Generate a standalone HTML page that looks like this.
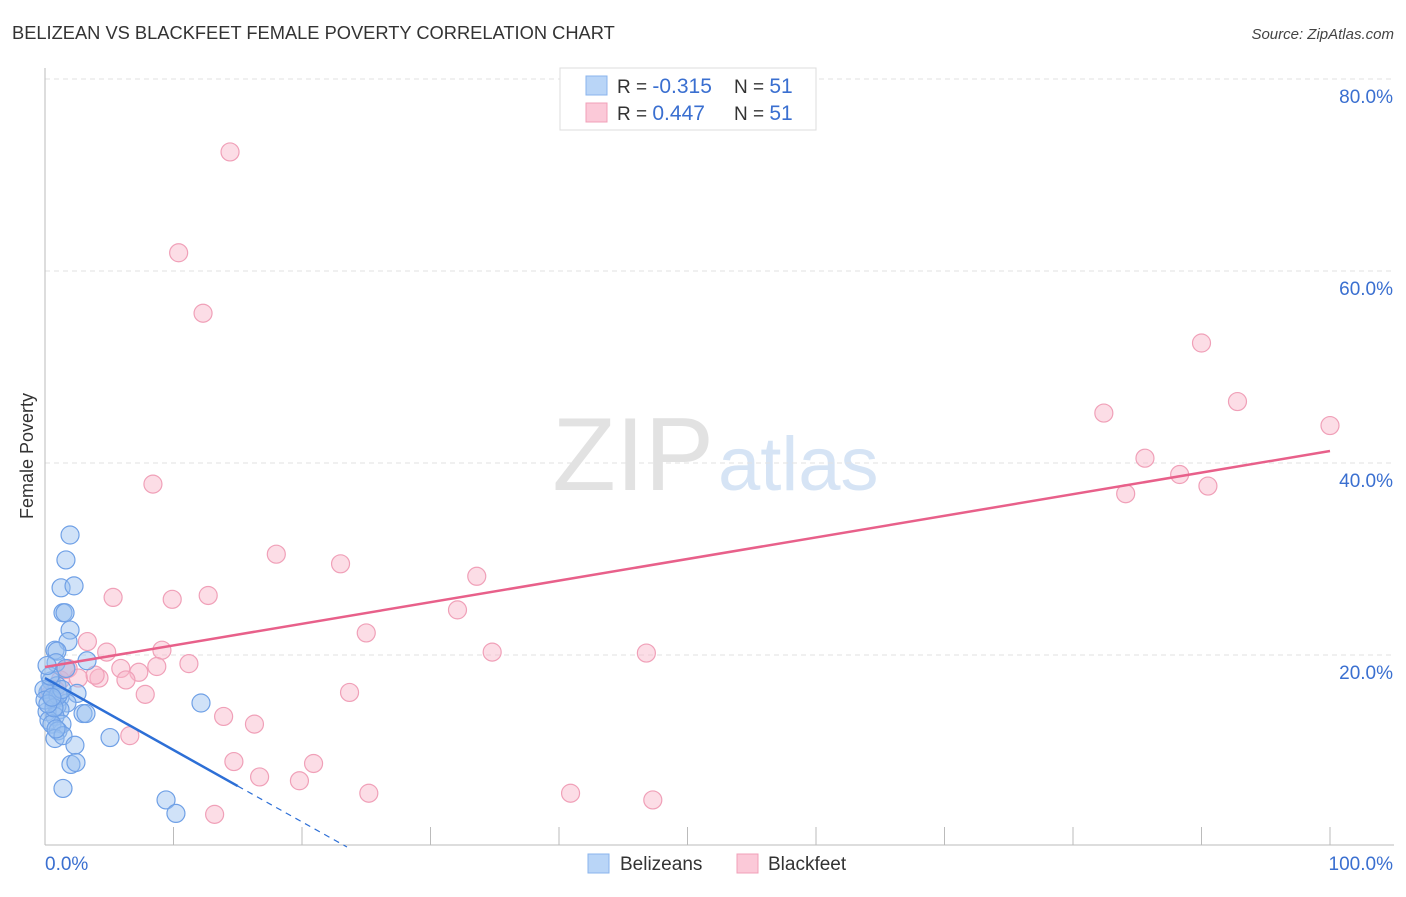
<!DOCTYPE html>
<html><head><meta charset="utf-8">
<style>
body{margin:0;background:#fff;font-family:"Liberation Sans",sans-serif;}
svg text{font-family:"Liberation Sans",sans-serif;}
</style></head>
<body>
<svg id="chart" width="1406" height="892" xmlns="http://www.w3.org/2000/svg">
<text x="12" y="39" font-size="18.3" fill="#333">BELIZEAN VS BLACKFEET FEMALE POVERTY CORRELATION CHART</text>
<text x="1394" y="39" font-size="15" fill="#444" text-anchor="end" font-style="italic">Source: ZipAtlas.com</text>
<text x="714" y="490" font-size="104" fill="#e2e2e2" text-anchor="end" font-family="Liberation Serif">ZIP</text>
<text x="718" y="490" font-size="76" fill="#d6e4f5">atlas</text>
<text transform="translate(33,456) rotate(-90)" font-size="18" fill="#333" text-anchor="middle">Female Poverty</text>
<g id="grid"></g>
<g id="marks"></g>
<g id="legend-top">
<rect x="560" y="68" width="256" height="62" fill="#fff" stroke="#ddd"/>
<rect x="586" y="76" width="21" height="19" fill="#b9d5f7" stroke="#8ab4ec"/>
<rect x="586" y="103" width="21" height="19" fill="#fbc9d8" stroke="#f0a0b8"/>
<text x="617" y="93" font-size="19" fill="#333">R = <tspan fill="#3a6fd0" font-size="21">-0.315</tspan></text>
<text x="734" y="93" font-size="19" fill="#333">N = <tspan fill="#3a6fd0" font-size="21">51</tspan></text>
<text x="617" y="120" font-size="19" fill="#333">R = <tspan fill="#3a6fd0" font-size="21"> 0.447</tspan></text>
<text x="734" y="120" font-size="19" fill="#333">N = <tspan fill="#3a6fd0" font-size="21">51</tspan></text>
</g>
<g>
<rect x="588" y="854" width="21" height="19" fill="#b9d5f7" stroke="#8ab4ec"/>
<text x="620" y="870" font-size="19" fill="#333">Belizeans</text>
<rect x="737" y="854" width="21" height="19" fill="#fbc9d8" stroke="#f0a0b8"/>
<text x="768" y="870" font-size="19" fill="#333">Blackfeet</text>
</g>
</svg>
<script>
const yTicks=[20,40,60,80];
const yTickLabels=["20.0%","40.0%","60.0%","80.0%"];
const xTicks=[0,10,20,30,40,50,60,70,80,90,100];
const beliX=[1.95,1.63,1.25,2.26,1.40,1.56,1.95,1.79,0.78,0.93,0.86,3.27,1.63,0.47,0.93,0.23,0.39,2.49,1.17,1.71,0.62,0.93,1.17,0.16,0.78,0.31,2.96,3.19,1.32,0.54,1.01,0.78,1.40,2.33,5.06,2.02,2.41,1.40,12.14,9.42,10.19,-0.08,0,0.39,0.16,1.01,1.32,0.70,0.23,0.54,0.86];
const beliY=[32.5,29.9,27.0,27.2,24.4,24.4,22.6,21.4,20.5,20.4,19.2,19.4,18.6,17.3,16.8,16.1,16.4,16.0,15.6,15.0,15.3,14.7,14.3,14.1,13.6,13.2,13.9,13.9,12.8,12.8,12.1,11.3,11.6,10.6,11.4,8.6,8.8,6.1,15.0,4.9,3.5,16.4,15.3,17.8,18.9,15.8,16.4,14.5,14.9,15.6,12.3];
const blkX=[14.4,10.4,12.3,8.4,18.0,23.0,33.6,5.3,9.9,12.7,32.1,25.0,3.3,4.8,9.1,34.8,46.8,1.8,5.9,7.3,8.7,11.2,2.6,4.2,6.3,3.9,7.8,23.7,13.9,16.3,6.6,14.7,16.7,19.8,20.9,25.2,40.9,47.3,13.2,90.0,82.4,92.8,100,85.6,88.3,84.1,90.5,1.2,0.8,1.6,0.39];
const blkY=[72.4,61.9,55.6,37.8,30.5,29.5,28.2,26.0,25.8,26.2,24.7,22.3,21.4,20.3,20.5,20.3,20.2,18.6,18.6,18.2,18.8,19.1,17.6,17.6,17.4,17.9,15.9,16.1,13.6,12.8,11.6,8.9,7.3,6.9,8.7,5.6,5.6,4.9,3.4,52.5,45.2,46.4,43.9,40.5,38.8,36.8,37.6,17.4,16.4,18.5,15.9];
const beliLine=[0,17.6,15.0,6.35,23.5,0];
const blkLine=[0,18.75,100,41.25];
const NS="http://www.w3.org/2000/svg";
const X=v=>45+v*12.85, Y=v=>847-v*9.6;
function mk(t,a,p){const e=document.createElementNS(NS,t);for(const k in a)e.setAttribute(k,a[k]);p.appendChild(e);return e;}
const grid=document.getElementById('grid'),marks=document.getElementById('marks');
yTicks.forEach((t,i)=>{
 const l=mk('line',{x1:45,x2:1394,y1:Y(t),y2:Y(t),stroke:'#e2e2e2','stroke-dasharray':'5,4'},grid);
 
 
 const tx=mk('text',{x:1393,y:Y(t)+24,'font-size':19,fill:'#3a6fd0','text-anchor':'end'},grid);
 tx.textContent=yTickLabels[i];
 
 
});
const ya=mk('line',{x1:45,x2:45,y1:68,y2:845,stroke:'#bbb'},grid);


const xa=mk('line',{x1:45,x2:1394,y1:845,y2:845,stroke:'#bbb'},grid);


xTicks.forEach(t=>{const l=mk('line',{x1:X(t),x2:X(t),y1:827,y2:845,stroke:'#bbb'},grid);
 
 });
const x0=mk('text',{x:45,y:870,'font-size':19,fill:'#3a6fd0'},grid);x0.textContent='0.0%';


const x1=mk('text',{x:1393,y:870,'font-size':19,fill:'#3a6fd0','text-anchor':'end'},grid);x1.textContent='100.0%';


blkX.forEach((v,i)=>{const c=mk('circle',{cx:X(v),cy:Y(blkY[i]),r:9,fill:'rgba(248,180,200,0.45)',stroke:'#f0a0b8','stroke-width':1.2},marks);
 
 });
beliX.forEach((v,i)=>{const c=mk('circle',{cx:X(v),cy:Y(beliY[i]),r:9,fill:'rgba(150,190,240,0.45)',stroke:'#6fa0e6','stroke-width':1.2},marks);
 
 });
const pl=mk('line',{x1:X(blkLine[0]),y1:Y(blkLine[1]),x2:X(blkLine[2]),y2:Y(blkLine[3]),stroke:'#e8608a','stroke-width':2.5},marks);


const bl=mk('line',{x1:X(beliLine[0]),y1:Y(beliLine[1]),x2:X(beliLine[2]),y2:Y(beliLine[3]),stroke:'#2d6fd6','stroke-width':2.5},marks);


const bd=mk('line',{x1:X(beliLine[2]),y1:Y(beliLine[3]),x2:X(beliLine[4]),y2:Y(beliLine[5]),stroke:'#2d6fd6','stroke-width':1.2,'stroke-dasharray':'6,5'},marks);


</script>
</body></html>
